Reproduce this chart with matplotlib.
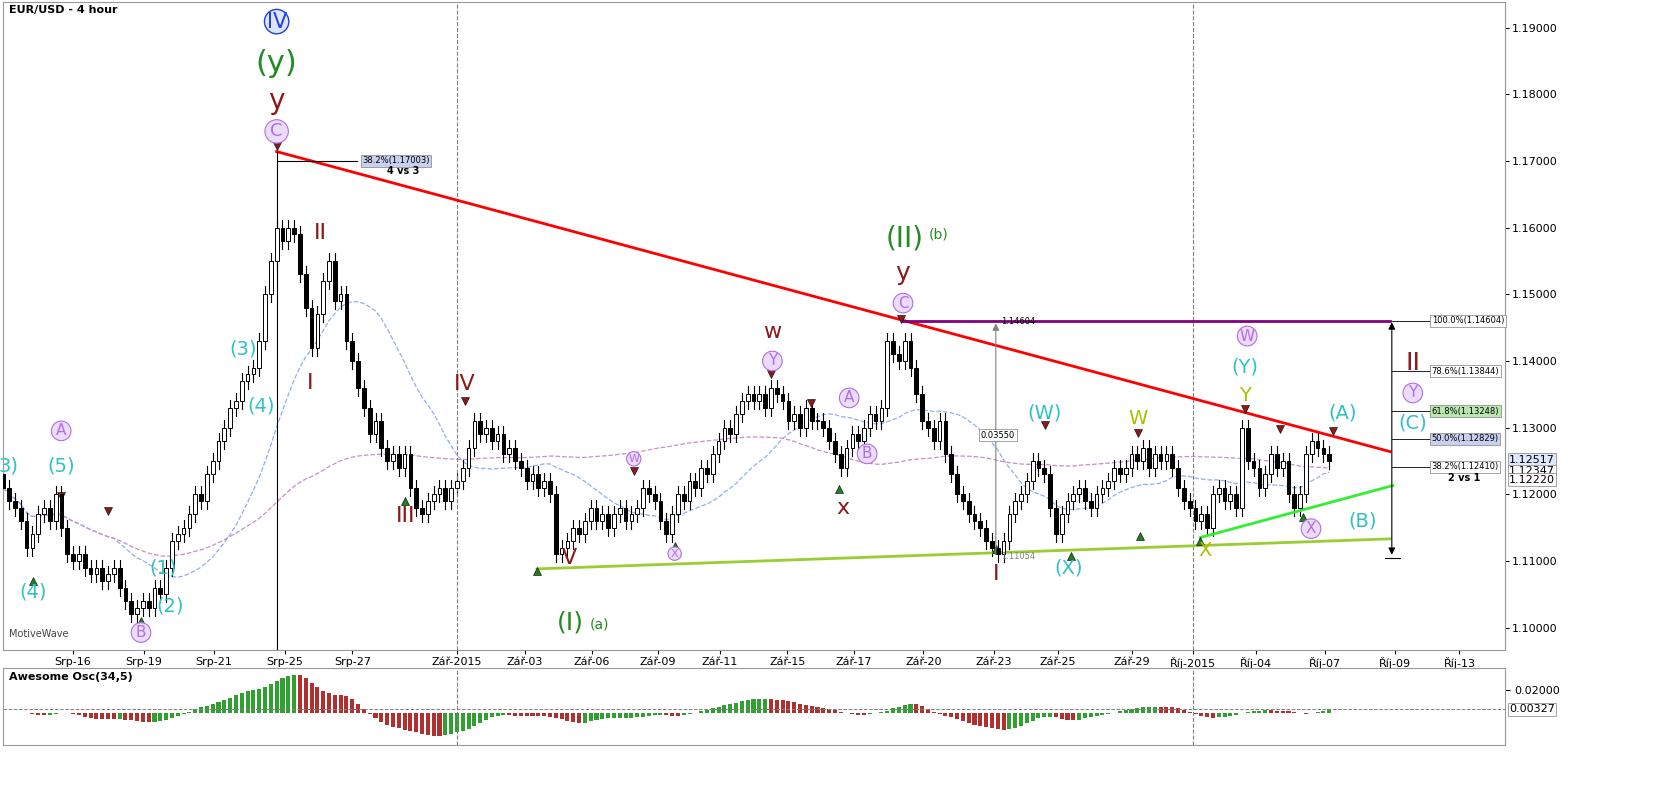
import numpy as np
import pandas as pd
import matplotlib
matplotlib.use("Agg")
import matplotlib.pyplot as plt
from matplotlib.patches import Rectangle

closes = [1.121,1.119,1.118,1.116,1.112, 1.114,1.117,1.118,1.116,1.120, 1.115,1.111,1.110,1.111,1.109,
 1.108,1.109,1.107,1.108,1.109,1.106,1.104,1.102, 1.103,1.104,1.103,1.106,1.105, 1.109,1.113,1.114,1.115,
 1.117,1.120,1.119,1.123,1.125, 1.128,1.130,1.133,1.134,1.137, 1.138,1.139,1.143, 1.150,1.155,1.160,
 1.158,1.160,1.159,1.153, 1.148,1.142,1.147, 1.152,1.155,1.149, 1.150,1.143,1.140, 1.136,1.133,1.129,1.131,1.127,
 1.125,1.126,1.124,1.126, 1.121,1.118,1.117,1.119, 1.120,1.121,1.119,1.121,1.122, 1.124,1.127,1.131,1.129,
 1.130,1.128,1.129,1.126,1.127, 1.125,1.124,1.122,1.123,1.121,1.122,1.120, 1.111,1.112,1.113,1.115,1.114,
 1.116,1.118,1.116,1.117,1.115,1.117,1.118,1.116,1.117,1.118, 1.121,1.120,1.119, 1.116,1.114,1.117,
 1.120,1.119,1.122,1.121,1.124,1.123,1.126, 1.128,1.130,1.129,1.132,1.134, 1.135,1.134,1.135,1.133,1.136,1.135,1.134,
 1.131,1.132,1.130,1.133,1.131, 1.131,1.130,1.128,1.126,1.124, 1.127,1.129,1.128, 1.130,1.132,1.131,1.133,
 1.143,1.141,1.140, 1.143,1.139, 1.135,1.131, 1.130,1.128,1.131, 1.126,1.123,1.120,1.119, 1.117,1.116,1.115,1.113,
 1.112,1.111,1.113, 1.117,1.119,1.120, 1.122,1.125,1.124,1.123, 1.118,1.114,1.117,
 1.119,1.120,1.121,1.119,1.118,1.120,1.121, 1.122,1.124,1.123,1.124, 1.126,1.125,1.127,1.124,1.126,1.125,1.126,1.124,
 1.121,1.119,1.118, 1.116,1.117,1.115, 1.120,1.121,1.119,1.120,1.118, 1.130, 1.125,1.124,1.121,1.123,
 1.126,1.124,1.125, 1.120,1.118,1.120, 1.126,1.128,1.127, 1.126,1.125]
first_open = 1.123
wick = 0.0012

tick_pos = [12, 24.2, 36.2, 48.4, 60, 78, 89.7, 101.2, 112.5, 123.2, 134.8, 146.3, 158.2, 170.3, 181.3, 194, 204.6, 215.4, 227.3, 239.3, 250.4]
tick_labels = ["Srp-16","Srp-19","Srp-21","Srp-25","Srp-27","Zář-2015","Zář-03","Zář-06","Zář-09","Zář-11",
               "Zář-15","Zář-17","Zář-20","Zář-23","Zář-25","Zář-29","Říj-2015","Říj-04","Říj-07","Říj-09","Říj-13"]
P = 5.83  # px per candle, for placing annotations read in pixels

c = np.array(closes)
o = np.concatenate([[first_open], c[:-1]])
h = np.maximum(o, c) + wick
l = np.minimum(o, c) - wick
n = len(c)
x = np.arange(n)

fig = plt.figure(figsize=(16.68, 7.91), dpi=100)
ax = fig.add_axes([0.002, 0.178, 0.9, 0.82])
ax2 = fig.add_axes([0.002, 0.058, 0.9, 0.097])

for i in range(n):
    up = c[i] >= o[i]
    ax.plot([i, i], [l[i], h[i]], color='black', lw=0.8, zorder=2)
    ax.add_patch(Rectangle((i-0.32, min(o[i], c[i])), 0.64, max(abs(c[i]-o[i]), 0.0002),
                           facecolor='white' if up else 'black', edgecolor='black', lw=0.7, zorder=3))
s = pd.Series(c)
ax.plot(x, s.rolling(20, min_periods=1).mean(), color='#8fb0f0', ls='--', lw=0.9, zorder=1)
ax.plot(x, s.rolling(90, min_periods=1).mean(), color='#c890c8', ls='--', lw=0.9, zorder=1)

xl = (0, 1505/P)
ax.set_xlim(*xl); ax.set_ylim(1.0966, 1.1939)
ax.yaxis.tick_right()
ax.set_yticks(np.arange(1.10, 1.191, 0.01))
ax.set_yticklabels([f"{v:.5f}" for v in np.arange(1.10, 1.191, 0.01)], fontsize=8)
ax.set_xticks(tick_pos); ax.set_xticklabels(tick_labels, fontsize=8)
ax.tick_params(length=3, pad=2)
for v in [455/P, 1193/P]:
    ax.axvline(v, color='gray', ls='--', lw=0.8)
    ax2.axvline(v, color='gray', ls='--', lw=0.8)
ax.text(0.004, 0.995, "EUR/USD - 4 hour", transform=ax.transAxes, fontsize=8, va='top', weight='bold')
ax.text(0.004, 0.02, "MotiveWave", transform=ax.transAxes, fontsize=7, color='#444')

# trendlines
ax.plot([274/P, 1390/P], [1.1714, 1.1264], color='red', lw=2)
ax.plot([902/P, 1390/P], [1.1460, 1.1460], color='purple', lw=2)
ax.plot([535/P, 1390/P], [1.1088, 1.1133], color='#9acd32', lw=2)
ax.plot([1200/P, 1393/P], [1.1135, 1.1213], color='#33ee33', lw=2)
ax.plot([274/P, 274/P], [1.0966, 1.1714], color='black', lw=0.8)
ax.plot([274/P, 355/P], [1.1700, 1.1700], color='black', lw=0.8)
ax.text(360/P, 1.1700, "38.2%(1.17003)", fontsize=6, va='center', bbox=dict(fc='#c8d0f0', ec='gray', lw=0.5, pad=1))
ax.text(385/P, 1.1680, "4 vs 3", fontsize=7, weight='bold')
ax.annotate("", xy=(995/P, 1.14604), xytext=(995/P, 1.1105), arrowprops=dict(arrowstyle='-|>', color='gray', lw=0.8))
ax.text(1000/P, 1.1455, "1.14604", fontsize=6)
ax.text(1000/P, 1.1103, "1.11054", fontsize=6, color='gray')
ax.text(980/P, 1.1285, "0.03550", fontsize=6, bbox=dict(fc='white', ec='gray', lw=0.5, pad=1))
ax.annotate("", xy=(1392/P, 1.1462), xytext=(1392/P, 1.1105), arrowprops=dict(arrowstyle='<|-|>', color='black', lw=0.8))
ax.plot([1385/P, 1400/P], [1.1105, 1.1105], color='black', lw=0.8)
fib = [(1.14604, "100.0%(1.14604)", 'white'), (1.13844, "78.6%(1.13844)", 'white'),
       (1.13248, "61.8%(1.13248)", '#b8e8b0'), (1.12829, "50.0%(1.12829)", '#c8d0f0'), (1.12410, "38.2%(1.12410)", 'white')]
for v, t, fc in fib:
    ax.plot([1392/P, 1430/P], [v, v], color='black', lw=0.6)
    ax.text(1432/P, v, t, fontsize=6, va='center', bbox=dict(fc=fc, ec='gray', lw=0.5, pad=1))
ax.text(1448/P, 1.1220, "2 vs 1", fontsize=7, weight='bold')

def circ(px, py, t, fs=11):
    ax.text(px/P, 1.19-(py-26)/6678, t, color='#b070e0', fontsize=fs, ha='center', va='center',
            bbox=dict(boxstyle='circle,pad=0.15', fc='#eadcfa', ec='#b070e0', lw=0.8))
def lab(px, py, t, col, fs=16):
    ax.text(px/P, 1.19-(py-26)/6678, t, color=col, fontsize=fs, ha='center', va='center')
DR, GR, CY, OL = '#8b1a1a', '#228b22', '#30c0c8', '#a8c000'
ax.text(274/P, 1.19-(20-26)/6678, "IV", color='#2040e0', fontsize=15, ha='center', va='center',
        bbox=dict(boxstyle='circle,pad=0.1', fc='#dde4ff', ec='#2040e0', lw=1))
lab(274, 62, "(y)", GR, 22); lab(274, 100, "y", DR, 20); circ(274, 130, "C", 13)
lab(318, 232, "II", DR); lab(308, 382, "I", DR); lab(240, 348, "(3)", CY, 14); lab(258, 405, "(4)", CY, 14)
lab(160, 567, "(1)", CY, 14); lab(167, 605, "(2)", CY, 14); circ(138, 632, "B")
lab(30, 591, "(4)", CY, 14); lab(58, 465, "(5)", CY, 14); circ(58, 430, "A"); lab(5, 465, "3)", CY, 14)
lab(463, 383, "IV", DR); lab(403, 515, "III", DR); lab(568, 557, "V", DR)
lab(568, 622, "(I)", GR, 18); lab(598, 624, "(a)", GR, 10)
circ(632, 458, "W", 8); circ(673, 553, "X", 8); lab(771, 331, "w", DR); circ(771, 360, "Y")
circ(848, 397, "A"); circ(866, 453, "B"); lab(842, 507, "x", DR)
lab(904, 237, "(II)", GR, 20); lab(938, 233, "(b)", GR, 10); lab(902, 272, "y", DR, 18); circ(902, 302, "C")
lab(1044, 412, "(W)", CY, 14); lab(1068, 567, "(X)", CY, 14); lab(995, 573, "I", DR)
lab(1138, 418, "W", OL, 14); lab(1205, 550, "X", OL, 14); lab(1245, 395, "Y", OL, 14)
lab(1245, 366, "(Y)", CY, 14); circ(1247, 335, "W"); lab(1343, 412, "(A)", CY, 14); circ(1311, 528, "X")
lab(1363, 520, "(B)", CY, 14); lab(1413, 362, "II", DR, 18); circ(1413, 392, "Y"); lab(1413, 422, "(C)", CY, 14)

# small markers
downs = [(58, 495), (105, 510), (274, 145), (463, 400), (632, 470), (770, 373), (810, 402), (900, 318), (1044, 424), (1138, 432), (1245, 408), (1280, 428), (1333, 430)]
ups = [(30, 580), (138, 620), (403, 500), (535, 570), (673, 545), (838, 488), (995, 548), (1070, 555), (1140, 535), (1200, 540), (1303, 516)]
for px, py in downs:
    ax.plot(px/P, 1.19-(py-26)/6678, marker='v', color='#8b1a1a', ms=6, mec='black', mew=0.4)
for px, py in ups:
    ax.plot(px/P, 1.19-(py-26)/6678, marker='^', color='#208020', ms=6, mec='black', mew=0.4)

# price boxes
for v, fc in [(1.12517, '#e0e8ff'), (1.12347, 'white'), (1.12220, 'white')]:
    ax.text(1.003, (v-1.0966)/(1.1939-1.0966), f"{v:.5f}", transform=ax.transAxes, fontsize=8, va='center',
            bbox=dict(fc=fc, ec='gray', lw=0.5, pad=1))

# Awesome oscillator
med = (pd.Series(h) + pd.Series(l)) / 2
ao = (med.rolling(5, min_periods=1).mean() - med.rolling(34, min_periods=1).mean()).values
cols = ['#30a030' if i > 0 and ao[i] >= ao[i-1] else '#b03030' for i in range(n)]
ax2.bar(x, ao, width=0.7, color=cols)
ax2.axhline(ao[-1], color='gray', ls='--', lw=0.7)
ax2.set_xlim(*xl); ax2.set_ylim(-0.028, 0.039)
ax2.yaxis.tick_right()
ax2.set_yticks([0.02]); ax2.set_yticklabels(["0.02000"], fontsize=8)
ax2.set_xticks([])
ax2.text(1.003, (ao[-1]+0.028)/0.067, f"{ao[-1]:.5f}", transform=ax2.transAxes, fontsize=8, va='center',
         bbox=dict(fc='white', ec='gray', lw=0.5, pad=1))
ax2.text(0.004, 0.95, "Awesome Osc(34,5)", transform=ax2.transAxes, fontsize=8, va='top', weight='bold')
for a in (ax, ax2):
    for sp in a.spines.values():
        sp.set_color('#999')
fig.savefig("out.png", dpi=100)
